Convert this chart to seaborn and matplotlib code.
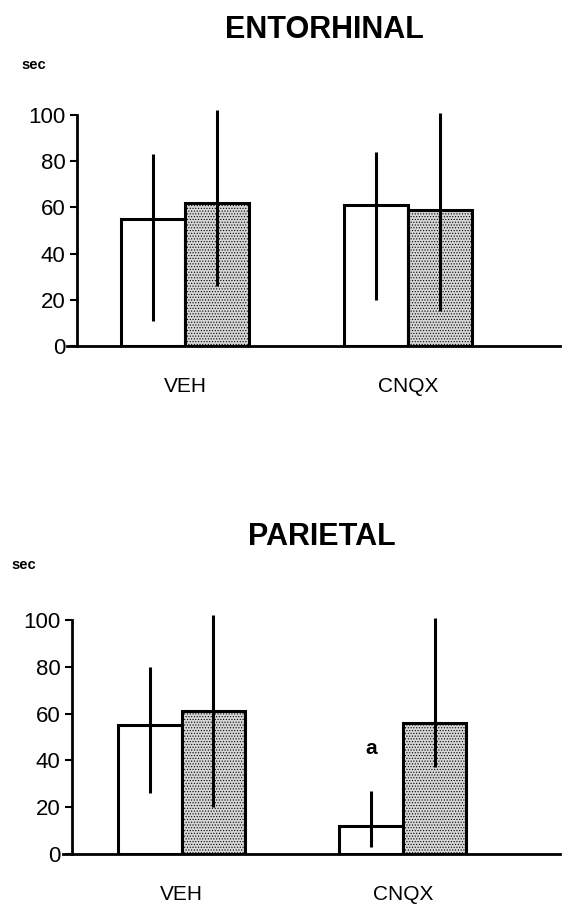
import pandas as pd
import numpy as np
import matplotlib.pyplot as plt
import seaborn as sns

# Values (sec)
groups = ['VEH', 'CNQX']
conditions = ['open', 'shaded']

ento_mean = [55, 62, 61, 59]      # VEH-open, VEH-shaded, CNQX-open, CNQX-shaded
ento_low = [11, 26, 20, 15]
ento_high = [83, 102, 84, 101]

pari_mean = [55, 61, 12, 56]
pari_low = [26, 20, 3, 37]
pari_high = [80, 102, 27, 101]

yticks = [0, 20, 40, 60, 80, 100]


def make_df(means, lows, highs):
    rows = []
    i = 0
    for g in groups:
        for c in conditions:
            rows.append({'group': g, 'cond': c, 'sec': means[i],
                         'low': lows[i], 'high': highs[i]})
            i += 1
    return pd.DataFrame(rows)


def draw_panel(ax, df, xlim, spine_at):
    sns.barplot(data=df, x='group', y='sec', hue='cond', order=groups,
                hue_order=conditions, palette={'open': 'white', 'shaded': '#d6d6d6'},
                edgecolor='black', linewidth=2.2, width=0.575, errorbar=None,
                saturation=1, ax=ax)
    for bar in ax.containers[1]:
        bar.set_hatch('......')
    ax.legend_.remove()

    # error bars at bar centres
    for ci, cont in enumerate(ax.containers):
        for gi, bar in enumerate(cont):
            row = df[(df['group'] == groups[gi]) & (df['cond'] == conditions[ci])].iloc[0]
            xc = bar.get_x() + bar.get_width() / 2
            ax.plot([xc, xc], [row['low'], row['high']], color='black', lw=2.2,
                    solid_capstyle='butt', zorder=5)

    ax.set_ylim(0, 110)
    ax.set_xlim(*xlim)
    ax.set_yticks(yticks)
    ax.set_xlabel('')
    ax.set_ylabel('')
    ax.tick_params(axis='x', length=0, pad=22, labelsize=15, colors='black')
    ax.tick_params(axis='y', length=5, width=1.5, pad=3, direction='out',
                   labelsize=16, colors='black', left=True)
    for s in ['top', 'right']:
        ax.spines[s].set_visible(False)
    ax.spines['left'].set_bounds(0, 100)
    ax.spines['left'].set_position(('axes', spine_at))
    ax.spines['left'].set_linewidth(2)
    ax.spines['bottom'].set_linewidth(2)
    ax.spines['left'].set_color('black')
    ax.spines['bottom'].set_color('black')
    ax.set_facecolor('white')


sns.set_theme(style='white')
plt.rcParams['font.family'] = ['Liberation Sans', 'DejaVu Sans']
plt.rcParams['hatch.color'] = '#7a7a7a'
plt.rcParams['hatch.linewidth'] = 0.5
plt.rcParams['text.color'] = 'black'

fig = plt.figure(figsize=(5.7, 9.05), dpi=100)

ax1 = fig.add_axes([0.1175, 0.6177, 0.865, 0.2807])
draw_panel(ax1, make_df(ento_mean, ento_low, ento_high), (-0.529, 1.682), 0.02)

ax2 = fig.add_axes([0.110, 0.0564, 0.872, 0.2844])
draw_panel(ax2, make_df(pari_mean, pari_low, pari_high), (-0.538, 1.710), 0.018)

# significance mark above CNQX open bar (parietal)
cnqx_open = ax2.containers[0][1]
ax2.text(cnqx_open.get_x() + cnqx_open.get_width() / 2, 41, 'a',
         ha='center', va='bottom', fontsize=15, fontweight='bold', color='black')

fig.text(0.570, 0.967, 'ENTORHINAL', ha='center', va='center', fontsize=22, fontweight='bold')
fig.text(0.565, 0.407, 'PARIETAL', ha='center', va='center', fontsize=22, fontweight='bold')
fig.text(0.038, 0.928, 'sec', ha='left', va='center', fontsize=10.5, fontweight='bold')
fig.text(0.020, 0.376, 'sec', ha='left', va='center', fontsize=10.5, fontweight='bold')

plt.savefig('out.png', dpi=100, facecolor='white')
plt.close()
